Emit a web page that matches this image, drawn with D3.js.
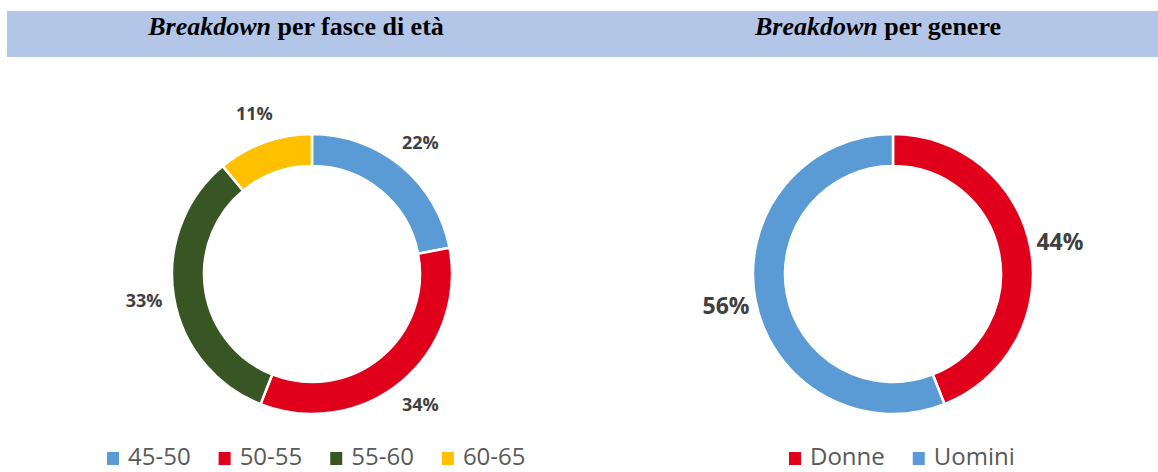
<!DOCTYPE html>
<html>
<head>
<meta charset="utf-8">
<script src="https://cdn.jsdelivr.net/npm/d3@7"></script>
<style>
  body { margin: 0; background: #fff; }
  svg { display: block; }
</style>
</head>
<body>
<div id="chart"></div>
<script>
// values
var ageLabels = ["45-50", "50-55", "55-60", "60-65"];
var ageValues = [22, 34, 33, 11];
var ageColors = ["#5b9bd5", "#e0001b", "#375623", "#ffc000"];

var genderLabels = ["Donne", "Uomini"];
var genderValues = [44, 56];
var genderColors = ["#e0001b", "#5b9bd5"];

var width = 1158, height = 472;

var svg = d3.select("#chart").append("svg")
    .attr("width", width)
    .attr("height", height);

// header band
svg.append("rect")
    .attr("x", 7).attr("y", 11)
    .attr("width", width - 7).attr("height", 46)
    .attr("fill", "#b4c6e7");

function title(cx, rest) {
    var t = svg.append("text")
        .attr("x", cx).attr("y", 35)
        .attr("text-anchor", "middle")
        .style("font-family", "'Liberation Serif', 'Times New Roman', serif")
        .style("font-size", "26px")
        .style("font-weight", "bold")
        .style("fill", "#000");
    t.append("tspan").style("font-style", "italic").text("Breakdown");
    t.append("tspan").text(" " + rest);
}
title(296, "per fasce di età");
title(878, "per genere");

function donut(cx, cy, labels, values, colors, labelSize, legendX) {
    var outer = 140, inner = 108;
    var g = svg.append("g")
        .attr("transform", "translate(" + cx + "," + cy + ")");

    var data = labels.map(function(d, i) { return {label: d, value: values[i]}; });

    var pie = d3.pie()
        .sort(null)
        .value(function(d) { return d.value; });

    var arc = d3.arc()
        .innerRadius(inner)
        .outerRadius(outer);

    var labelArc = d3.arc()
        .innerRadius(170)
        .outerRadius(170);

    var color = d3.scaleOrdinal().domain(labels).range(colors);

    var arcs = pie(data);

    g.selectAll("path")
        .data(arcs)
        .enter()
        .append("path")
        .attr("d", arc)
        .style("fill", function(d) { return color(d.data.label); })
        .style("stroke", "#fff")
        .style("stroke-width", 2.5);

    g.selectAll("text.pct")
        .data(arcs)
        .enter()
        .append("text")
        .attr("class", "pct")
        .attr("transform", function(d) { return "translate(" + labelArc.centroid(d) + ")"; })
        .attr("text-anchor", "middle")
        .attr("dy", "0.35em")
        .style("font-family", "'Open Sans', sans-serif")
        .style("font-weight", "bold")
        .style("font-size", labelSize + "px")
        .style("fill", "#404040")
        .text(function(d) { return d.data.value + "%"; });

    // legend
    var leg = svg.append("g").attr("transform", "translate(" + legendX + ",0)");
    var x = 0;
    labels.forEach(function(l, i) {
        leg.append("rect")
            .attr("x", x).attr("y", 452)
            .attr("width", 12).attr("height", 13)
            .attr("fill", color(l));
        var t = leg.append("text")
            .attr("x", x + 21).attr("y", 465)
            .style("font-family", "'Open Sans', sans-serif")
            .style("font-size", "24px")
            .style("fill", "#595959")
            .text(l);
        x += 21 + t.node().getComputedTextLength() + 28;
    });
}

donut(312, 274, ageLabels, ageValues, ageColors, 18, 107);
donut(893, 274, genderLabels, genderValues, genderColors, 23, 789);
</script>
</body>
</html>
